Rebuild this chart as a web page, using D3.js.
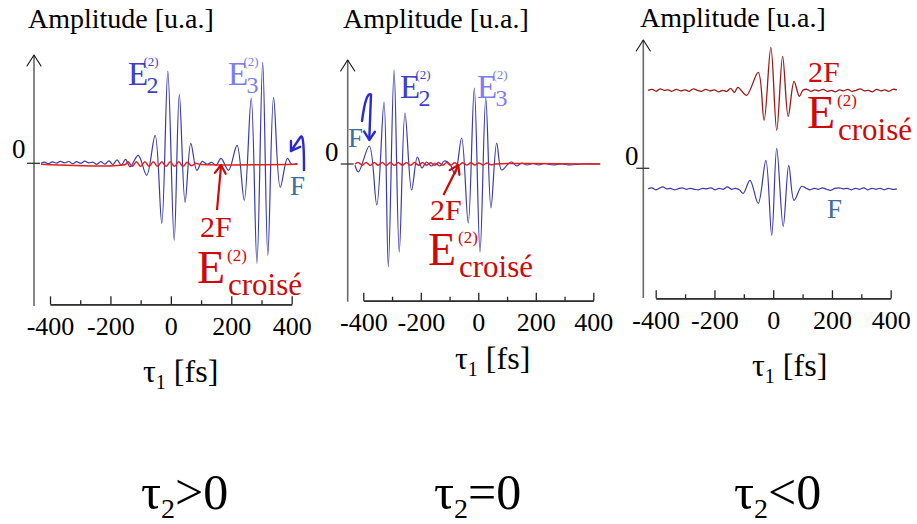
<!DOCTYPE html>
<html><head><meta charset="utf-8">
<script src="https://cdn.jsdelivr.net/npm/d3@7/dist/d3.min.js"></script>
<style>body{margin:0;background:#fff}svg{display:block;font-family:"Liberation Serif","Times New Roman",serif}</style>
</head><body>
<svg id="c" width="917" height="524"></svg>
<script>
// ---------- data ----------
const xTicks = [-400, -200, 0, 200, 400];
const xMinorTicks = [-300, -100, 100, 300];
const yTickValues = [0];
const yTitle = "Amplitude [u.a.]";
const caseLabels = [[">", "0"], ["=", "0"], ["<", "0"]];

// panel 1 (tau2 > 0): [tau1 (fs), amplitude]
const p1Blue = [[-430,0],[-418,.012],[-405,-.004],[-392,.015],[-378,.002],[-366,.02],[-352,.004],[-338,.018],[-325,-.004],[-312,.016],[-298,0],[-285,.022],[-272,.004],[-258,.012],[-245,-.01],[-232,.016],[-218,-.008],[-205,.025],[-192,-.012],[-178,.035],[-164,-.02],[-150,.04],[-135,-.035],
 [-108,.08],[-80,-.12],[-52,.28],[-30,-.60],[-10,.92],[11,-.77],[28,.69],[47,-.39],[66,.20],[86,-.07],[104,.02],[120,-.01],[135,.01],[150,-.02],
 [166,.05],[191,-.07],[219,.18],[243,-.37],[266,.65],[285,-1.00],[304,1.01],[321,-.92],[340,.66],[362,-.24],[386,.05],[400,-.01],[419,0]];
const p1Red = [[-430,-.01],[-150,-.01],[-142,.015],[-128,-.03],[-114,.015],[-100,-.03],[-86,.015],[-72,-.03],[-58,.015],[-44,-.03],[-30,.015],[-16,-.03],[-2,.015],[12,-.03],[26,.015],[40,-.03],[54,.01],[68,-.025],[82,0],[96,-.01],[419,-.01]];

// panel 2 (tau2 = 0)
const p2Blue = [[-429,-.01],[-417,-.08],[-379,.18],[-353,-.41],[-328,.62],[-313,-1.03],[-293,.94],[-275,-.88],[-255,.51],[-232,-.26],[-212,.07],[-196,-.04],[-180,.02],[-163,-.02],[-151,.01],[-133,-.02],[-118,.03],[-99,0],
 [-81,-.10],[-58,.26],[-35,-.59],[-14,.76],[6,-.88],[26,.66],[44,-.44],[64,.21],[81,-.06],[104,0],[116,.02],[134,-.02],[151,.01],[170,-.01],[190,.005],[210,-.01],[230,.005],[260,-.01],[290,0],[320,-.01],[360,0],[424,0]];
const p2Red = [[-429,0],[-418,.015],[-404,-.012],[-390,.016],[-376,-.014],[-362,.015],[-348,-.012],[-334,.016],[-320,-.014],[-306,.015],[-292,-.013],[-278,.014],[-264,-.012],[-250,.015],[-236,-.013],[-222,.014],[-208,-.012],[-194,.015],[-180,-.012],[-166,.013],[-152,-.012],[-138,.014],[-124,-.013],[-110,.014],[-96,-.012],[-82,.013],[-68,-.012],[-54,.013],[-40,-.011],[-26,.012],[-12,-.01],[2,.011],[16,-.01],[30,.01],[44,-.008],[60,0],[424,0]];

// panel 3 (tau2 < 0)
const p3Blue = [[-426,-.205],[-413,-.195],[-400,-.215],[-388,-.2],[-376,-.185],[-363,-.205],[-350,-.2],[-337,-.215],[-324,-.205],[-310,-.195],[-296,-.21],[-282,-.2],[-268,-.21],[-254,-.215],[-240,-.2],[-226,-.205],[-212,-.195],[-198,-.215],[-184,-.2],[-170,-.21],[-156,-.185],[-142,-.21],[-128,-.2],[-115,-.215],
 [-102,-.25],[-79,-.12],[-51,-.35],[-25,.08],[-5,-.67],[12,.20],[34,-.58],[53,.03],[71,-.32],[97,-.18],
 [112,-.2],[126,-.215],[140,-.2],[154,-.21],[168,-.195],[182,-.21],[196,-.22],[210,-.2],[224,-.195],[238,-.205],[252,-.2],[266,-.215],[280,-.2],[294,-.21],[308,-.195],[322,-.215],[336,-.2],[350,-.21],[364,-.2],[378,-.215],[392,-.2],[406,-.21],[421,-.205]];
const p3Red = [[-426,.78],[-412,.79],[-398,.77],[-385,.795],[-372,.78],[-358,.785],[-345,.77],[-330,.79],[-316,.775],[-300,.785],[-286,.77],[-272,.795],[-258,.78],[-244,.77],[-230,.79],[-216,.775],[-200,.785],[-186,.765],[-172,.78],[-158,.77],[-145,.8],[-132,.76],
 [-120,.81],[-91,.73],[-51,.96],[-31,.48],[-8,1.21],[12,.38],[32,1.12],[51,.52],[71,.87],[89,.72],[101,.78],
 [115,.79],[128,.77],[142,.785],[156,.775],[170,.79],[184,.77],[198,.78],[212,.765],[226,.785],[240,.775],[254,.79],[268,.77],[282,.78],[296,.795],[310,.775],[324,.78],[338,.765],[352,.79],[366,.775],[380,.785],[394,.77],[408,.79],[421,.785]];

// ---------- style / layout ----------
const C = {blue:"#3a3aad", red:"#e3201c", darkRed:"#9a1818", e2:"#3f3fc9", e3:"#7d7df0",
           f:"#3e6da3", lab:"#cc0a0a", fArrow:"#2a2ad0", axis:"#6a6a6a", xaxis:"#222"};
const FONT = '"Liberation Serif","Times New Roman",serif';

const panels = [
  {blue:p1Blue, red:p1Red, redColor:C.red, redW:1.5, xr:[50,291.7], zeroY:163.3, axX:34, axTop:55, axBot:306, baseY:304.3,
   titleX:28, titleY:28, zeroLX:12, zeroLY:158, xtX:143, xtY:382, caseX:141},
  {blue:p2Blue, red:p2Red, redColor:C.red, redW:1.5, xr:[363.3,593.3], zeroY:164, axX:347.7, axTop:60, axBot:301.7, baseY:300.7,
   titleX:343, titleY:28, zeroLX:325, zeroLY:161, xtX:455, xtY:369, caseX:434},
  {blue:p3Blue, red:p3Red, redColor:C.darkRed, redW:1.3, xr:[655.7,890.7], zeroY:168.3, axX:643.3, axTop:40, axBot:298, baseY:298.3,
   titleX:640, titleY:27, zeroLX:625, zeroLY:165, xtX:752, xtY:376, caseX:734}
];

const svg = d3.select("#c");

function txt(x, y, s, size, color, g) {
  return (g || svg).append("text").attr("x", x).attr("y", y).attr("font-size", size)
    .attr("fill", color || "#000").attr("font-family", FONT).text(s);
}
function arrowHead(g, tip, from, len, color, w) {
  const a = Math.atan2(tip[1]-from[1], tip[0]-from[0]);
  const sp = Math.PI/5.5;
  const p1 = [tip[0]-len*Math.cos(a-sp), tip[1]-len*Math.sin(a-sp)];
  const p2 = [tip[0]-len*Math.cos(a+sp), tip[1]-len*Math.sin(a+sp)];
  g.append("path").attr("d", `M${p1}L${tip}L${p2}`).attr("fill","none")
    .attr("stroke", color).attr("stroke-width", w).attr("stroke-linejoin","round").attr("stroke-linecap","round");
}

panels.forEach((p, i) => {
  const g = svg.append("g");
  const x = d3.scaleLinear().domain([-400, 400]).range(p.xr);
  const y = d3.scaleLinear().domain([0, 1]).range([p.zeroY, p.zeroY - 100]);

  // y axis (line + arrow + zero tick)
  g.append("line").attr("x1", p.axX).attr("x2", p.axX).attr("y1", p.axTop).attr("y2", p.axBot)
    .attr("stroke", C.axis).attr("stroke-width", 1.6);
  arrowHead(g, [p.axX, p.axTop], [p.axX, p.axTop + 20], 13, "#111", 1.1);
  yTickValues.forEach(v => {
    g.append("line").attr("x1", p.axX - 7).attr("x2", p.axX + 6).attr("y1", y(v)).attr("y2", y(v))
      .attr("stroke", "#333").attr("stroke-width", 1.3);
    txt(p.zeroLX, p.zeroLY, String(v), 27, "#000", g);
  });
  txt(p.titleX, p.titleY, yTitle, 28, "#000", g);

  // x axis
  const minor = g.append("g").attr("transform", `translate(0,${p.baseY})`)
    .call(d3.axisBottom(x).tickValues(xMinorTicks).tickSize(-4).tickSizeOuter(0).tickFormat(""));
  const major = g.append("g").attr("transform", `translate(0,${p.baseY})`)
    .call(d3.axisBottom(x).tickValues(xTicks).tickSize(-8).tickSizeOuter(0).tickPadding(12).tickFormat(d => String(d)));
  [minor, major].forEach(a => {
    a.attr("font-family", FONT).attr("font-size", 26);
    a.selectAll("path,line").attr("stroke", C.xaxis).attr("stroke-width", 1.3);
    a.selectAll("text").attr("fill", "#000");
  });

  // x title  tau_1 [fs]
  const xt = txt(p.xtX, p.xtY, "", 32, "#000", g);
  xt.append("tspan").text("τ");
  xt.append("tspan").attr("font-size", 20).attr("dy", 7).text("1");
  xt.append("tspan").attr("dy", -7).text(" [fs]");

  // bottom case label
  const cl = txt(p.caseX, 509, "", 50, "#000", g);
  cl.append("tspan").text("τ");
  cl.append("tspan").attr("font-size", 28).attr("dy", 9).text("2");
  cl.append("tspan").attr("dy", -9).text(caseLabels[i][0] + caseLabels[i][1]);

  // signals
  const line = d3.line().x(d => x(d[0])).y(d => y(d[1])).curve(d3.curveCatmullRom.alpha(0.5));
  g.append("path").datum(p.blue).attr("d", line).attr("fill", "none").attr("stroke", C.blue).attr("stroke-width", 1.2);
  g.append("path").datum(p.red).attr("d", line).attr("fill", "none").attr("stroke", p.redColor).attr("stroke-width", p.redW);
});

// ---------- annotations ----------
function eLabel(x, y, idx, color) {
  txt(x, y, "E", 33, color);
  txt(x + 18.5, y + 7.5, idx, 24, color);
  txt(x + 15.5, y - 19, "(2)", 13, color);
}
function eCroise(x, y) {
  txt(x, y, "E", 46, C.lab);
  txt(x + 30, y - 22, "(2)", 17, C.lab);
  txt(x + 31, y + 12, "croisé", 31, C.lab);
}
// panel 1
eLabel(128, 85, "2", C.e2);
eLabel(228, 85, "3", C.e3);
txt(290, 195, "F", 27, C.f);
txt(200, 237, "2F", 30, C.lab);
eCroise(197, 283);
svg.append("path").attr("d", "M304,170 C304,150 303.5,133 300.5,137 L291,151").attr("fill","none")
  .attr("stroke", C.fArrow).attr("stroke-width", 2.4).attr("stroke-linecap","round");
arrowHead(svg, [291,151], [298,140], 10, C.fArrow, 2.4);
svg.append("line").attr("x1",217).attr("y1",210).attr("x2",221).attr("y2",166).attr("stroke",C.lab).attr("stroke-width",2.2);
arrowHead(svg, [221,165], [217,210], 10, C.lab, 2.2);
// panel 2
eLabel(400, 98, "2", C.e2);
eLabel(477, 98, "3", C.e3);
txt(348, 147, "F", 27, C.f);
txt(430, 220, "2F", 30, C.lab);
eCroise(428, 265);
svg.append("path").attr("d", "M362,121 Q366,91 371,94.5 L369.3,139").attr("fill","none")
  .attr("stroke", C.fArrow).attr("stroke-width", 2.4).attr("stroke-linecap","round");
arrowHead(svg, [369.3,140], [369.8,120], 10, C.fArrow, 2.4);
svg.append("line").attr("x1",443.5).attr("y1",195).attr("x2",457.5).attr("y2",167).attr("stroke",C.lab).attr("stroke-width",2.2);
arrowHead(svg, [458.3,165], [443.5,195], 10, C.lab, 2.2);
// panel 3
txt(808, 82, "2F", 30, C.lab);
eCroise(807, 128);
txt(827, 218, "F", 27, C.f);
</script>
</body></html>
